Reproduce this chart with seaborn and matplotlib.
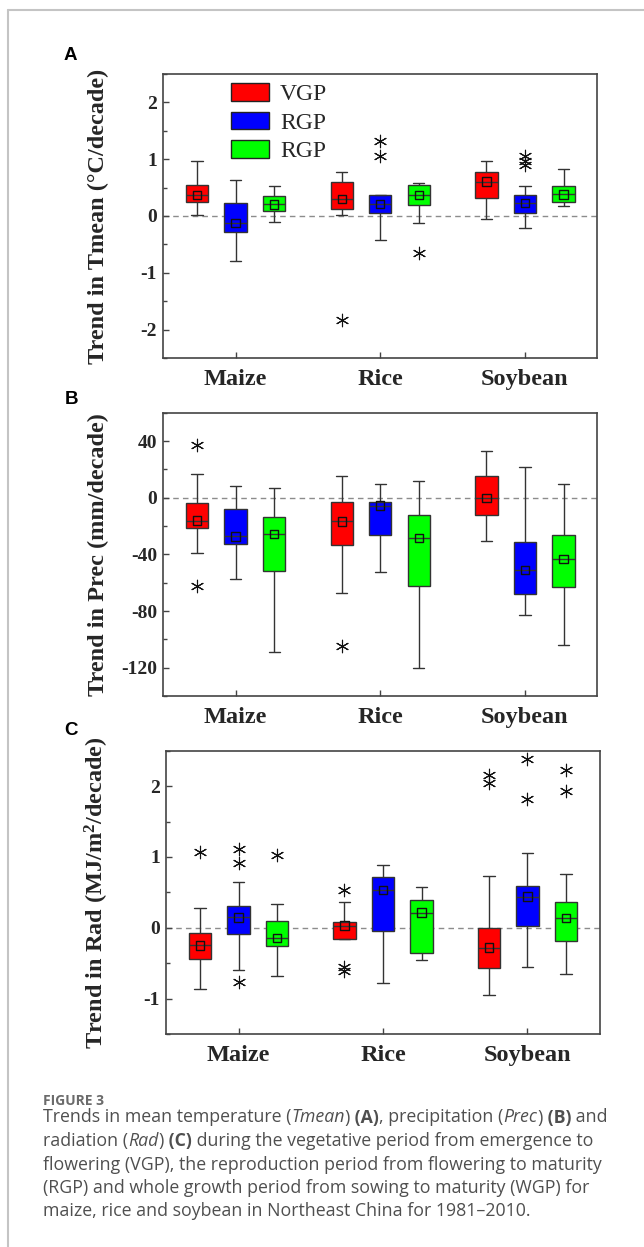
import numpy as np
import pandas as pd
import matplotlib
matplotlib.use("Agg")
import matplotlib.pyplot as plt
import seaborn as sns
from matplotlib.ticker import MultipleLocator
from matplotlib.lines import Line2D

# ---------------- data ----------------
crops = ["Maize", "Rice", "Soybean"]
periods = ["VGP", "RGP", "WGP"]
legend_labels = ["VGP", "RGP", "RGP"]

# Panel A: trend in Tmean (crop-major, period-minor)
tmean_low = [0.01, -0.80, -0.11, 0.02, -0.42, -0.12, -0.06, -0.21, 0.18]
tmean_q1 = [0.24, -0.28, 0.09, 0.13, 0.05, 0.19, 0.31, 0.05, 0.25]
tmean_med = [0.37, -0.12, 0.21, 0.30, 0.22, 0.37, 0.60, 0.23, 0.38]
tmean_q3 = [0.55, 0.23, 0.36, 0.59, 0.37, 0.54, 0.77, 0.37, 0.52]
tmean_high = [0.96, 0.63, 0.53, 0.77, 0.37, 0.58, 0.96, 0.52, 0.83]
tmean_mean = [0.37, -0.12, 0.20, 0.30, 0.21, 0.37, 0.61, 0.23, 0.38]
tmean_out_crop = ["Rice", "Rice", "Rice", "Rice", "Soybean", "Soybean", "Soybean"]
tmean_out_period = ["VGP", "RGP", "RGP", "WGP", "RGP", "RGP", "RGP"]
tmean_out_value = [-1.83, 1.32, 1.06, -0.65, 1.05, 0.97, 0.90]

# Panel B: trend in Prec
prec_low = [-38.9, -57.3, -108.8, -67.4, -52.6, -120.1, -30.7, -82.5, -103.9]
prec_q1 = [-21.5, -32.5, -51.6, -33.2, -26.2, -62.0, -12.5, -67.9, -63.4]
prec_med = [-16.5, -27.1, -25.5, -16.5, -5.7, -28.5, 0.0, -51.1, -43.4]
prec_q3 = [-3.8, -7.8, -13.4, -2.9, -2.9, -12.5, 15.3, -31.6, -26.4]
prec_high = [16.5, 8.2, 6.8, 15.0, 9.9, 11.5, 32.7, 21.9, 9.4]
prec_mean = [-16.0, -27.3, -25.5, -16.7, -5.4, -28.3, 0.0, -50.9, -43.4]
prec_out_crop = ["Maize", "Maize", "Rice"]
prec_out_period = ["VGP", "VGP", "VGP"]
prec_out_value = [37.2, -62.0, -104.4]

# Panel C: trend in Rad
rad_low = [-0.86, -0.59, -0.68, -0.16, -0.78, -0.46, -0.95, -0.56, -0.65]
rad_q1 = [-0.44, -0.085, -0.26, -0.16, -0.05, -0.36, -0.57, 0.03, -0.19]
rad_med = [-0.25, 0.145, -0.145, 0.03, 0.53, 0.215, -0.28, 0.43, 0.14]
rad_q3 = [-0.075, 0.31, 0.10, 0.08, 0.71, 0.39, -0.01, 0.59, 0.37]
rad_high = [0.28, 0.64, 0.34, 0.37, 0.88, 0.57, 0.73, 1.05, 0.765]
rad_mean = [-0.25, 0.145, -0.145, 0.03, 0.53, 0.215, -0.28, 0.44, 0.14]
rad_out_crop = ["Maize", "Maize", "Maize", "Maize", "Maize", "Rice", "Rice", "Rice",
                "Soybean", "Soybean", "Soybean", "Soybean", "Soybean", "Soybean"]
rad_out_period = ["VGP", "RGP", "RGP", "RGP", "WGP", "VGP", "VGP", "VGP",
                  "VGP", "VGP", "RGP", "RGP", "WGP", "WGP"]
rad_out_value = [1.07, 1.11, 0.91, -0.77, 1.03, 0.54, -0.55, -0.61,
                 2.16, 2.05, 2.38, 1.82, 2.23, 1.93]

panel_letters = ["A", "B", "C"]
ylabels = ["Trend in Tmean (°C/decade)",
           "Trend in Prec (mm/decade)",
           "Trend in Rad (MJ/m$^2$/decade)"]

caption_title = "FIGURE 3"
caption_lines = [
    [("Trends in mean temperature (", "n"), ("Tmean", "i"), (")", "n"), (" (A)", "b"),
     (", precipitation (", "n"), ("Prec", "i"), (")", "n"), (" (B)", "b"), (" and", "n")],
    [("radiation (", "n"), ("Rad", "i"), (")", "n"), (" (C)", "b"),
     (" during the vegetative period from emergence to", "n")],
    [("flowering (VGP), the reproduction period from flowering to maturity", "n")],
    [("(RGP) and whole growth period from sowing to maturity (WGP) for", "n")],
    [("maize, rice and soybean in Northeast China for 1981\u20132010.", "n")],
]

colors = {"VGP": "#ff0000", "RGP": "#0000ff", "WGP": "#00ff00"}
black = {"VGP": "black", "RGP": "black", "WGP": "black"}

# ---------------- style ----------------
sns.set_theme(style="ticks")
plt.rcParams.update({
    "font.family": ["Liberation Serif", "DejaVu Serif"],
    "font.weight": "bold",
    "axes.unicode_minus": False,
    "mathtext.fontset": "custom",
    "mathtext.rm": "Liberation Serif:bold",
    "mathtext.bf": "Liberation Serif:bold",
    "mathtext.it": "Liberation Serif:bold",
    "mathtext.default": "rm",
    "axes.edgecolor": "#444444",
    "axes.linewidth": 1.2,
    "figure.facecolor": "white",
    "axes.facecolor": "white",
})

W, H = 644, 1247
fig = plt.figure(figsize=(W / 100, H / 100), dpi=100)


def add_axes_px(l, t, r, b):
    return fig.add_axes([l / W, 1 - b / H, (r - l) / W, (b - t) / H])


def draw_panel(ax, low, q1, med, q3, high, mean, oc, op, ov, ylim, major, minor,
               ylabel, label_x, show_legend):
    rows = []
    k = 0
    for c in crops:
        for p in periods:
            for v in (low[k], q1[k], med[k], q3[k], high[k]):
                rows.append({"crop": c, "period": p, "value": v})
            k += 1
    df = pd.DataFrame(rows)
    mdf = pd.DataFrame({"crop": [c for c in crops for _ in periods],
                        "period": [p for _ in crops for p in periods],
                        "value": mean})
    odf = pd.DataFrame({"crop": oc, "period": op, "value": ov})

    ax.axhline(0, color="#8c8c8c", ls=(0, (4, 3)), lw=1.0, zorder=0.5)
    sns.boxplot(data=df, x="crop", y="value", hue="period", order=crops,
                hue_order=periods, palette=colors, whis=(0, 100), showfliers=False,
                width=0.8, gap=0.42, linecolor="#333333", linewidth=1.0,
                saturation=1, legend=show_legend, ax=ax)
    n0 = len(ax.collections)
    sns.stripplot(data=mdf, x="crop", y="value", hue="period", order=crops,
                  hue_order=periods, dodge=True, jitter=False, marker="s", size=6,
                  palette=black, linewidth=1.0, edgecolor="black", legend=False,
                  zorder=4, ax=ax)
    for coll in ax.collections[n0:]:
        coll.set_facecolor("none")
        coll.set_edgecolor("#111111")
    n1 = len(ax.collections)
    sns.stripplot(data=odf, x="crop", y="value", hue="period", order=crops,
                  hue_order=periods, dodge=True, jitter=False, marker=(6, 2, 0),
                  size=9, palette=black, linewidth=0.8, edgecolor="black",
                  legend=False, zorder=4, ax=ax)
    for coll in ax.collections[n1:]:
        coll.set_edgecolor("#111111")
        coll.set_facecolor("#111111")
        coll.set_linewidth(0.8)

    ax.set_xlim(-0.5, 2.5)
    ax.set_ylim(*ylim)
    ax.yaxis.set_major_locator(MultipleLocator(major))
    ax.yaxis.set_minor_locator(MultipleLocator(minor))
    ax.tick_params(axis="y", which="major", direction="in", length=4, width=1,
                   labelsize=14, pad=4.5, color="#444444")
    ax.tick_params(axis="y", which="minor", direction="in", length=3, width=1,
                   color="#444444")
    ax.tick_params(axis="x", which="major", direction="in", length=4, width=1,
                   labelsize=17.5, pad=8, color="#444444")
    ax.tick_params(axis="x", which="minor", bottom=False)
    for sp in ax.spines.values():
        sp.set_visible(True)
        sp.set_color("#444444")
        sp.set_linewidth(1.2)
    ax.set_xlabel("")
    ax.set_ylabel(ylabel, fontsize=17.5, fontweight="bold")
    ax.yaxis.set_label_coords(label_x, 0.5)

    if show_legend:
        leg = ax.get_legend()
        handles = leg.legend_handles
        for h in handles:
            h.set_edgecolor("#222222")
            h.set_linewidth(1.0)
        ax.legend(handles, legend_labels, loc="upper left",
                  bbox_to_anchor=(0.155, 0.967), frameon=False,
                  prop={"family": "Liberation Serif", "weight": "normal", "size": 17},
                  handlelength=1.64, handleheight=0.78, handletextpad=0.45,
                  labelspacing=0.26, borderpad=0, borderaxespad=0)


axA = add_axes_px(163.3, 74, 597.3, 358)
axB = add_axes_px(163.3, 412.7, 597.3, 696)
axC = add_axes_px(166.3, 750.7, 599.7, 1034)

draw_panel(axA, tmean_low, tmean_q1, tmean_med, tmean_q3, tmean_high, tmean_mean,
           tmean_out_crop, tmean_out_period, tmean_out_value,
           (-2.5, 2.5), 1, 0.5, ylabels[0], -0.125, True)
draw_panel(axB, prec_low, prec_q1, prec_med, prec_q3, prec_high, prec_mean,
           prec_out_crop, prec_out_period, prec_out_value,
           (-140, 60), 40, 20, ylabels[1], -0.125, False)
draw_panel(axC, rad_low, rad_q1, rad_med, rad_q3, rad_high, rad_mean,
           rad_out_crop, rad_out_period, rad_out_value,
           (-1.5, 2.5), 1, 0.5, ylabels[2], -0.127, False)

# panel letters
for letter, (xp, yp) in zip(panel_letters, [(70.5, 55), (71, 400), (71, 731)]):
    fig.text(xp / W, 1 - yp / H, letter, family=["Liberation Sans", "DejaVu Sans"],
             weight="bold", fontsize=13.5, ha="center", va="center", color="black")

# card border
fig.add_artist(Line2D([7.5 / W, 7.5 / W], [0, 1 - 9.5 / H], transform=fig.transFigure,
                      color="#c4c4c4", lw=1.5))
fig.add_artist(Line2D([7.5 / W, 1], [1 - 9.5 / H, 1 - 9.5 / H], transform=fig.transFigure,
                      color="#c4c4c4", lw=1.5))

# caption
renderer = fig.canvas.get_renderer()
fig.text(43 / W, 1 - 1105 / H, caption_title, family=["Open Sans", "DejaVu Sans"],
         weight="bold", fontsize=10, color="#6b6b6b", va="baseline", ha="left")

baselines = [1122.5, 1146, 1169.5, 1193, 1216.5]
for segs, yb in zip(caption_lines, baselines):
    x = 43.0
    for s, st in segs:
        kw = dict(family=["Open Sans", "DejaVu Sans"], fontsize=12.8, color="#4f4f4f",
                  va="baseline", ha="left", weight="normal", style="normal")
        if st == "i":
            kw["style"] = "italic"
        if st == "b":
            kw["weight"] = "bold"
        t = fig.text(x / W, 1 - yb / H, s, **kw)
        x += t.get_window_extent(renderer=renderer).width

fig.savefig("out.png", dpi=100)
